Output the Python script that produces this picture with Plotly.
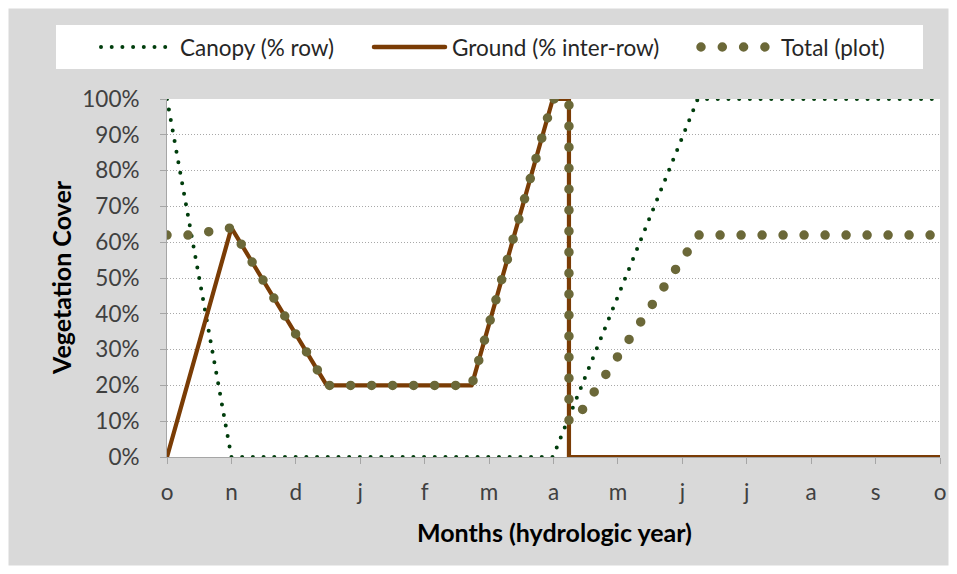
import plotly.graph_objects as go

# ---------------- data ----------------
month_ticks = list(range(13))
month_labels = ["o", "n", "d", "j", "f", "m", "a", "m", "j", "j", "a", "s", "o"]

canopy_x = [0, 1.0, 5.99, 8.24, 12]
canopy_y = [100, 0, 0, 100, 100]

ground_x = [0, 1.0, 2.48, 4.73, 5.99, 6.24, 6.24, 12]
ground_y = [0, 64, 20, 20, 100, 100, 0, 0]

total_x = [0, 0.33, 0.67, 1.0, 2.48, 4.73, 5.99, 6.24, 6.24, 6.33, 8.25, 12]
total_y = [62, 62, 63, 64, 20, 20, 100, 100, 10, 10, 62, 62]

y_ticks = list(range(0, 101, 10))

# ---------------- styling ----------------
W, H = 957, 574
L, R, T, B = 167, 940, 99, 457   # plot area in pixels

C_CANOPY = "#003d0c"
C_GROUND = "#7a3c05"
C_TOTAL = "#6b6838"
FONT = "Lato"
FS = 22.5


def px(xp):
    return (xp - L) / (R - L)


def py(yp):
    return (B - yp) / (B - T)


fig = go.Figure()
fig.add_trace(go.Scatter(x=canopy_x, y=canopy_y, mode="lines", name="Canopy (% row)",
                         line=dict(color=C_CANOPY, width=4, dash="0px,10.7px"),
                         showlegend=False))
fig.add_trace(go.Scatter(x=ground_x, y=ground_y, mode="lines", name="Ground (% inter-row)",
                         line=dict(color=C_GROUND, width=4.2), showlegend=False))
fig.add_trace(go.Scatter(x=total_x, y=total_y, mode="lines", name="Total (plot)",
                         line=dict(color=C_TOTAL, width=9.5, dash="0px,21px"),
                         showlegend=False))

shapes = []
# white outer border
shapes.append(dict(type="rect", xref="paper", yref="paper", layer="above",
                   x0=px(0), x1=px(W), y0=py(0), y1=py(H),
                   line=dict(color="white", width=17), fillcolor="rgba(0,0,0,0)"))
# legend box
shapes.append(dict(type="rect", xref="paper", yref="paper", layer="below",
                   x0=px(56), x1=px(923), y0=py(25), y1=py(69),
                   line=dict(width=0), fillcolor="white"))
ly = py(47)
shapes.append(dict(type="line", xref="paper", yref="paper", x0=px(101), x1=px(170), y0=ly, y1=ly,
                   line=dict(color=C_CANOPY, width=4, dash="0px,10.7px")))
shapes.append(dict(type="line", xref="paper", yref="paper", x0=px(374), x1=px(445), y0=ly, y1=ly,
                   line=dict(color=C_GROUND, width=4.5)))
shapes.append(dict(type="line", xref="paper", yref="paper", x0=px(701), x1=px(765), y0=ly, y1=ly,
                   line=dict(color=C_TOTAL, width=9.5, dash="0px,21.3px")))

annotations = []
for xp, txt in [(178, "Canopy (% row)"), (450, "Ground (% inter-row)"), (779, "Total (plot)")]:
    annotations.append(dict(xref="paper", yref="paper", x=px(xp), y=ly, xanchor="left",
                            yanchor="middle", showarrow=False, text=txt,
                            font=dict(family=FONT, size=FS, color="#262626")))
annotations.append(dict(xref="paper", yref="paper", x=px(554), y=py(532), xanchor="center",
                        yanchor="middle", showarrow=False, text="<b>Months (hydrologic year)</b>",
                        font=dict(family=FONT, size=25, color="#000000")))
annotations.append(dict(xref="paper", yref="paper", x=px(61), y=py(278), xanchor="center",
                        yanchor="middle", showarrow=False, text="<b>Vegetation Cover</b>",
                        textangle=-90, font=dict(family=FONT, size=25, color="#000000")))

fig.update_layout(
    width=W, height=H,
    margin=dict(l=L, r=W - R, t=T, b=H - B, pad=0),
    paper_bgcolor="#d9d9d9",
    plot_bgcolor="white",
    shapes=shapes,
    annotations=annotations,
    showlegend=False,
    font=dict(family=FONT, size=FS, color="#404040"),
)
fig.update_xaxes(range=[0, 12], tickmode="array", tickvals=month_ticks, ticktext=month_labels,
                 showgrid=False, zeroline=False, showline=True, linecolor="#a6a6a6", linewidth=1,
                 ticks="outside", ticklen=6, tickcolor="#a6a6a6", layer="below traces",
                 tickfont=dict(family=FONT, size=FS, color="#404040"), ticklabelstandoff=9)
fig.update_yaxes(range=[0, 100], tickmode="array", tickvals=y_ticks,
                 ticktext=[f"{v}%" for v in y_ticks],
                 showgrid=True, gridcolor="#a8a8a8", gridwidth=1, griddash="1px,2px",
                 zeroline=False, showline=True, linecolor="#a6a6a6", linewidth=1,
                 ticks="outside", ticklen=6, tickcolor="#a6a6a6", layer="below traces",
                 tickfont=dict(family=FONT, size=FS, color="#404040"), ticklabelstandoff=16)

post = """
var st = document.createElement('style');
st.textContent = 'html, body {margin: 0; padding: 0; overflow: hidden;} ' +
  '.js-line, .shapelayer path {stroke-linecap: round; stroke-linejoin: round;} ' +
  '.cartesianlayer .plot, .cartesianlayer .plot g, .cartesianlayer .plot path {clip-path: none !important;}';
document.head.appendChild(st);
"""

fig.write_html("out.html", post_script=post, config={"displayModeBar": False})
